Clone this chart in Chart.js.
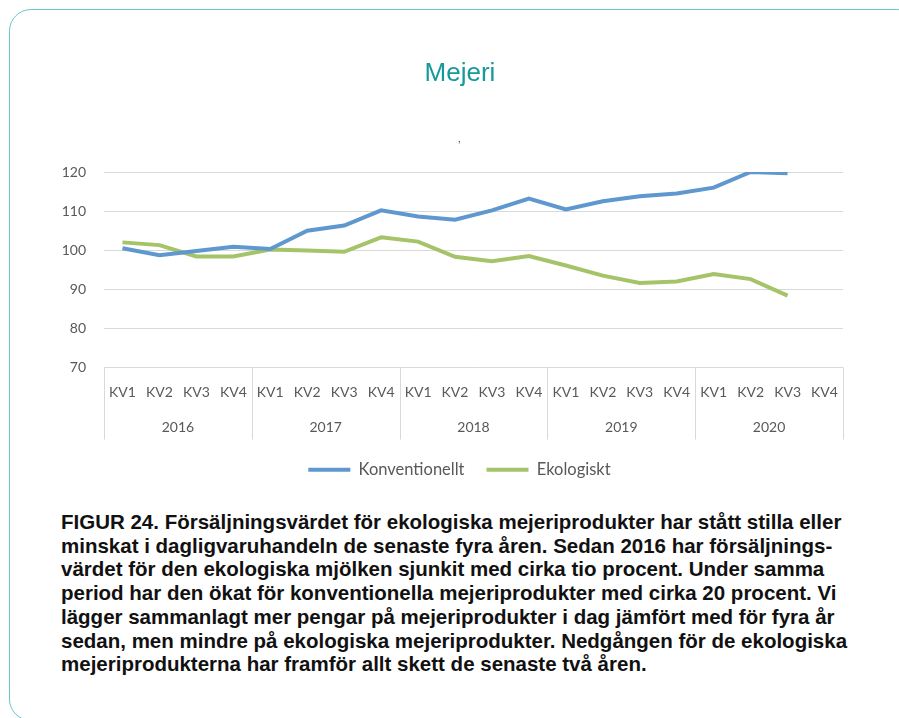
<!DOCTYPE html>
<html>
<head>
<meta charset="utf-8">
<script src="https://cdn.jsdelivr.net/npm/chart.js@4"></script>
<style>
  body { margin: 0; background: #fff; width: 899px; height: 718px; overflow: hidden; position: relative; }
  .frame { position: absolute; left: 9px; top: 9px; width: 910px; height: 712px; border: 1.5px solid #6cc6c8; border-radius: 22px; box-sizing: border-box; }
  .wrap { position: absolute; left: 0; top: 0; width: 899px; height: 488px; }
  .title { position: absolute; left: 360px; width: 200px; top: 57px; text-align: center; font: 26px "Liberation Sans", Arial, sans-serif; color: #16999b; }
  .mark { position: absolute; left: 458px; top: 139px; font: 11px "Liberation Sans", sans-serif; color: #444; }
  .caption { position: absolute; left: 61px; top: 510px; font: bold 20.5px "Liberation Sans", Arial, sans-serif; line-height: 23.7px; color: #111; white-space: nowrap; }
</style>
</head>
<body>
<div class="frame"></div>
<div class="wrap"><canvas id="line-chart"></canvas></div>
<div class="title">Mejeri</div>
<div class="mark">’</div>
<div class="caption">
FIGUR 24. Försäljningsvärdet för ekologiska mejeriprodukter har stått stilla eller<br>
minskat i dagligvaruhandeln de senaste fyra åren. Sedan 2016 har försäljnings-<br>
värdet för den ekologiska mjölken sjunkit med cirka tio procent. Under samma<br>
period har den ökat för konventionella mejeriprodukter med cirka 20 procent. Vi<br>
lägger sammanlagt mer pengar på mejeriprodukter i dag jämfört med för fyra år<br>
sedan, men mindre på ekologiska mejeriprodukter. Nedgången för de ekologiska<br>
mejeriprodukterna har framför allt skett de senaste två åren.
</div>
<script>
var years = ["2016", "2017", "2018", "2019", "2020"];
var quarters = ["KV1", "KV2", "KV3", "KV4"];
var konventionellt = [100.5, 98.7, 99.8, 100.9, 100.3, 105.0, 106.3, 110.2, 108.6, 107.8,
                      110.2, 113.2, 110.4, 112.5, 113.8, 114.5, 116.0, 120.0, 119.7, null];
var ekologiskt = [102.0, 101.3, 98.4, 98.4, 100.2, 99.9, 99.6, 103.3, 102.2, 98.3,
                  97.2, 98.5, 96.1, 93.5, 91.6, 92.0, 93.9, 92.6, 88.4, null];
var yTicks = [70, 80, 90, 100, 110, 120];

var labels = [];
years.forEach(function (y) {
  quarters.forEach(function (q) { labels.push(q); });
});

var axisFont = { family: "Lato", size: 14 };
var gray = "#595959";

// year row + separators under the quarter labels
var yearAxis = {
  id: "yearAxis",
  afterLayout: function (chart) {
    // legend sits a bit right of the plot centre in the original
    chart.legend.left += 8;
    chart.legend.right += 8;
  },
  afterDraw: function (chart) {
    var x = chart.scales.x;
    var ctx = chart.ctx;
    var groupW = (x.right - x.left) / years.length;
    ctx.save();
    ctx.strokeStyle = "#d9d9d9";
    ctx.lineWidth = 1;
    for (var g = 0; g <= years.length; g++) {
      var px = Math.round(x.left + g * groupW) + 0.5;
      ctx.beginPath();
      ctx.moveTo(px, x.top);
      ctx.lineTo(px, x.bottom);
      ctx.stroke();
    }
    ctx.fillStyle = gray;
    ctx.font = "14px Lato";
    ctx.textAlign = "center";
    ctx.textBaseline = "middle";
    years.forEach(function (y, i) {
      ctx.fillText(y, x.left + (i + 0.5) * groupW, x.top + 60);
    });
    ctx.restore();
  }
};

new Chart(document.getElementById("line-chart"), {
  type: "line",
  data: {
    labels: labels,
    datasets: [
      {
        label: "Konventionellt",
        data: konventionellt,
        borderColor: "#5f97cf",
        backgroundColor: "#5f97cf",
        borderWidth: 4,
        pointRadius: 0,
        tension: 0
      },
      {
        label: "Ekologiskt",
        data: ekologiskt,
        borderColor: "#a5c46a",
        backgroundColor: "#a5c46a",
        borderWidth: 4,
        pointRadius: 0,
        tension: 0
      }
    ]
  },
  options: {
    responsive: true,
    maintainAspectRatio: false,
    animation: false,
    layout: { padding: { left: 60, right: 56, top: 172, bottom: 0 } },
    plugins: {
      title: { display: false },
      legend: {
        position: "bottom",
        labels: {
          usePointStyle: true,
          pointStyle: "line",
          pointStyleWidth: 42,
          color: gray,
          font: { family: "Lato", size: 16.5 },
          padding: 22
        }
      },
      tooltip: { enabled: false }
    },
    scales: {
      x: {
        offset: true,
        grid: { display: false, drawTicks: false },
        border: { display: false },
        ticks: { color: gray, font: axisFont, padding: 17, maxRotation: 0, autoSkip: false },
        afterFit: function (s) { s.height = 72; }
      },
      y: {
        min: 70,
        max: 120,
        afterBuildTicks: function (s) { s.ticks = yTicks.map(function (v) { return { value: v }; }); },
        grid: { color: "#d9d9d9", drawTicks: false },
        border: { display: false },
        ticks: { color: gray, font: axisFont, padding: 18 },
        afterFit: function (s) { s.width = 44; }
      }
    }
  },
  plugins: [yearAxis]
});
</script>
</body>
</html>
